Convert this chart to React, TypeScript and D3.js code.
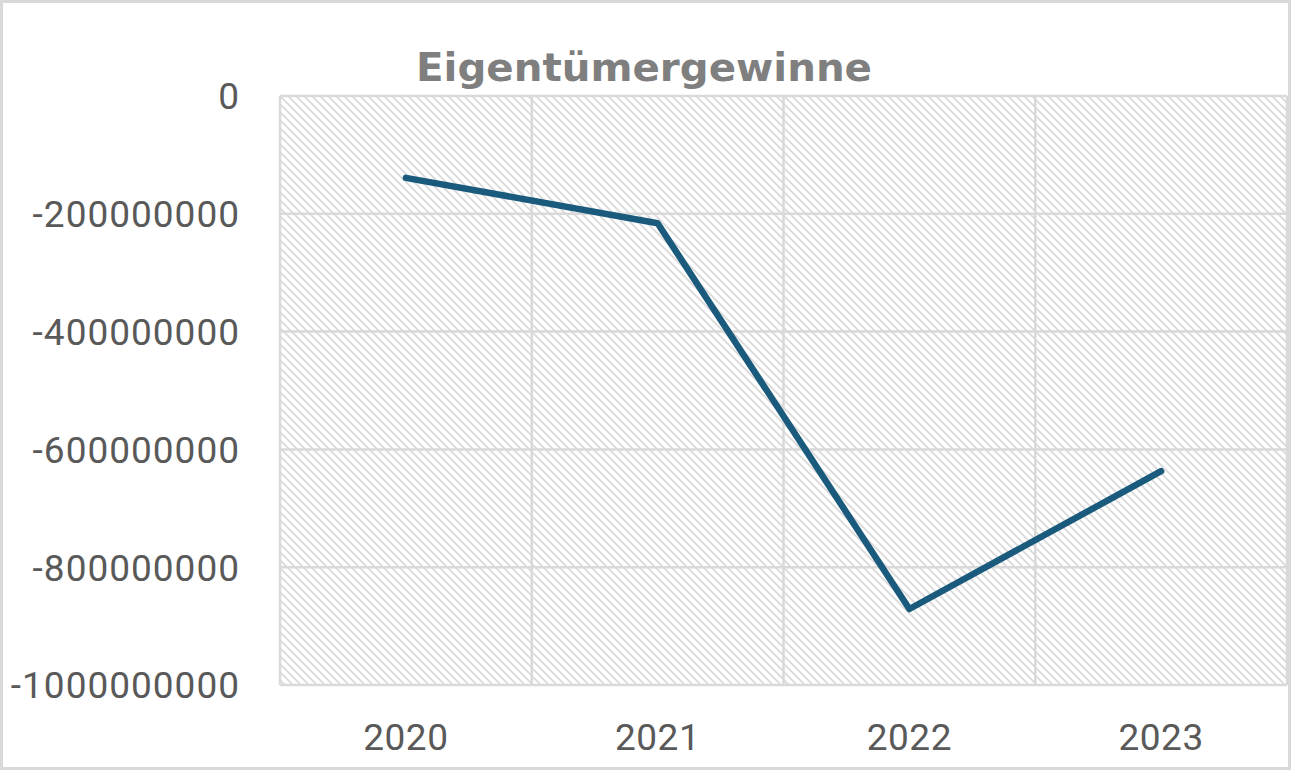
import React from 'react'
import * as d3 from 'd3'

const years = ['2020', '2021', '2022', '2023']
const profits = [-139000000, -216000000, -871000000, -637000000]
const yTicks = [0, -200000000, -400000000, -600000000, -800000000, -1000000000]

const W = 1291
const H = 770

export default function App() {
    const m = { left: 280, right: 1287, top: 96, bottom: 685 }
    const x = d3.scaleBand().domain(years).range([m.left, m.right])
    const y = d3.scaleLinear().domain([-1000000000, 0]).range([m.bottom, m.top])
    const line = d3.line<number>()
        .x((_, i) => x(years[i])! + x.bandwidth() / 2)
        .y(d => y(d))

    const bounds = years.map(yr => x(yr)!).concat([m.right])

    return (
        <svg width={W} height={H} style={{ position: 'absolute', left: 0, top: 0 }}>
            <defs>
                <pattern id="hatch" width="8" height="8" patternUnits="userSpaceOnUse">
                    <rect width="8" height="8" fill="#fff" />
                    <path d="M-2,-2 L10,10 M-2,6 L2,10 M6,-2 L10,2" stroke="#dadada" strokeWidth="1.8" />
                </pattern>
            </defs>
            <rect x={1.5} y={1.5} width={W - 3} height={H - 3} fill="#fff" stroke="#d9d9d9" strokeWidth={3} />
            <rect x={m.left} y={m.top} width={m.right - m.left} height={m.bottom - m.top} fill="url(#hatch)" />
            {yTicks.map(t => (
                <line key={'g' + t} x1={m.left} x2={m.right} y1={y(t)} y2={y(t)} stroke="#d9d9d9" strokeWidth={2.5} />
            ))}
            {bounds.map((b, i) => (
                <line key={'v' + i} x1={b} x2={b} y1={m.top} y2={m.bottom} stroke="#d9d9d9" strokeWidth={2.5} />
            ))}
            {yTicks.map(t => (
                <text key={'t' + t} x={240} y={y(t)} dy="0.36em" textAnchor="end" letterSpacing={1}
                    fontFamily="Roboto, sans-serif" fontSize={37} fill="#595959">{t}</text>
            ))}
            {years.map(yr => (
                <text key={yr} x={x(yr)! + x.bandwidth() / 2} y={737} dy="0.36em" textAnchor="middle" letterSpacing={0.5}
                    fontFamily="Roboto, sans-serif" fontSize={37} fill="#595959">{yr}</text>
            ))}
            <path d={line(profits)!} fill="none" stroke="#1a5a7c" strokeWidth={6.5} strokeLinejoin="round" strokeLinecap="round" />
            <text x={416} y={81} textLength={456} lengthAdjust="spacingAndGlyphs"
                fontFamily="'DejaVu Sans', sans-serif" fontWeight="bold" fontSize={39} fill="#7f7f7f">Eigentümergewinne</text>
        </svg>
    )
}
